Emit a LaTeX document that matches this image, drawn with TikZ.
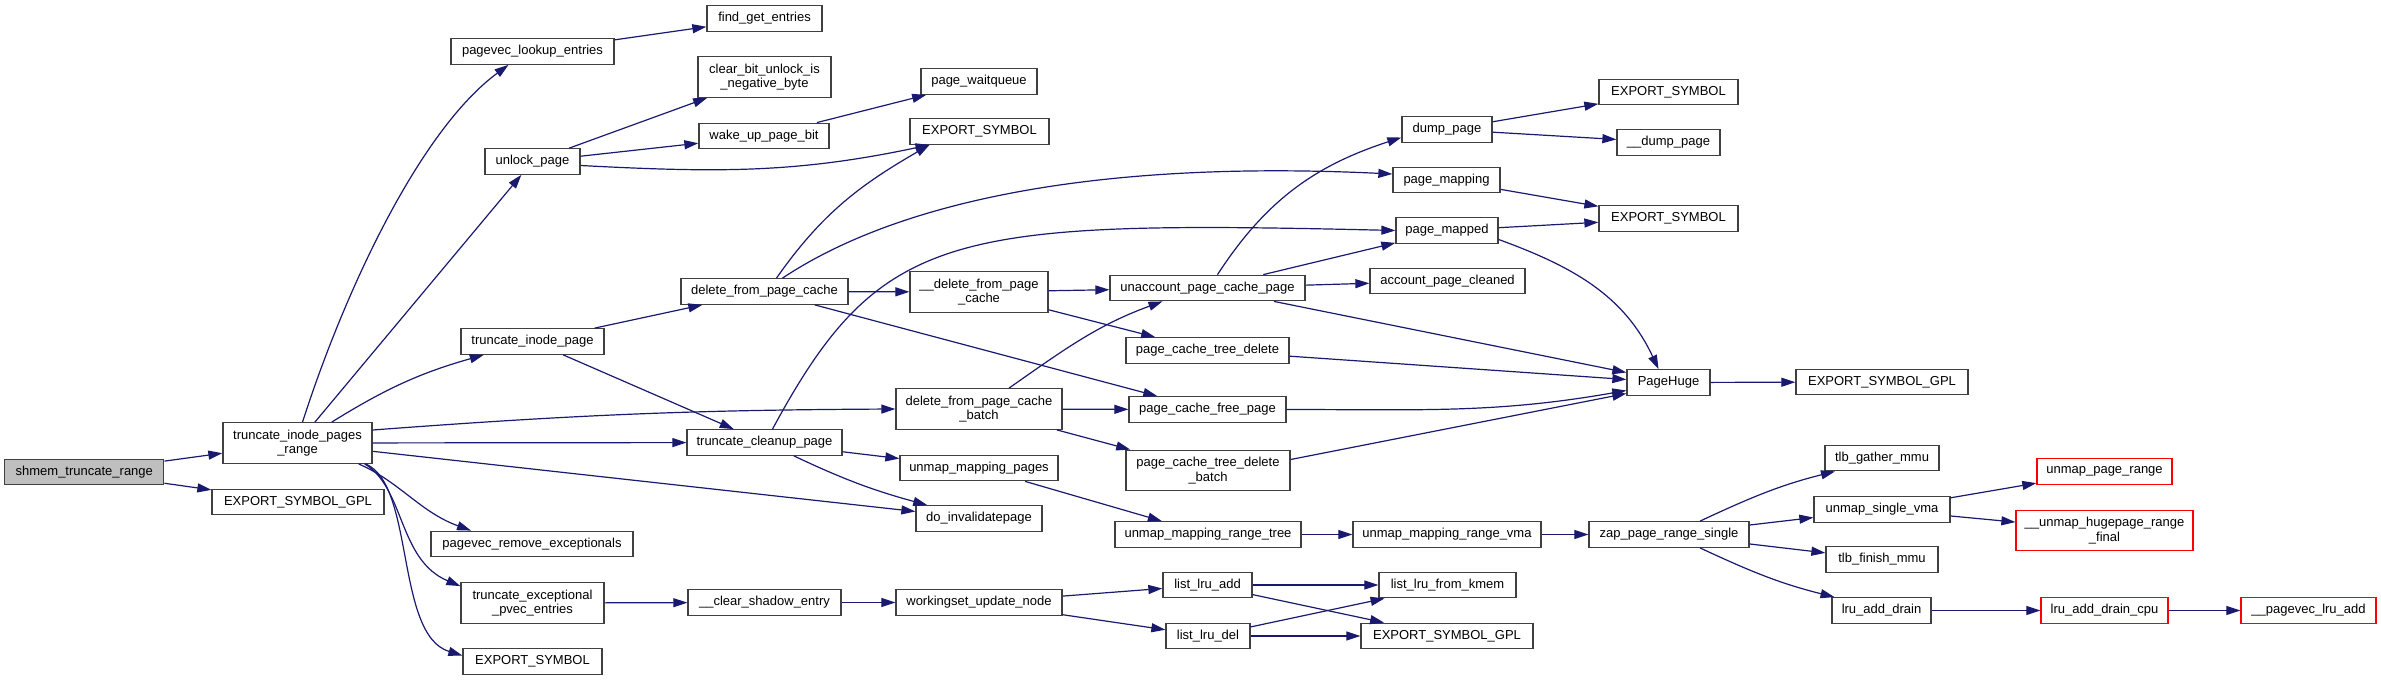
\documentclass[tikz,border=0pt]{standalone}
\usepackage{fontspec}
\setmainfont{Liberation Sans}
\usepackage{xcolor}
\usetikzlibrary{arrows.meta}
\definecolor{edgeblue}{HTML}{191970}
\definecolor{boxgray}{HTML}{404040}
\definecolor{rootfill}{HTML}{BFBFBF}
\newcommand{\fnfont}{\fontsize{13}{14.5}\selectfont}

\begin{document}
\begin{tikzpicture}[x=1pt, y=-1pt,
  fn/.style={draw=boxgray, line width=1.3pt, minimum height=25.5pt, inner sep=1pt, font=\fnfont},
  fntwo/.style={fn, minimum height=40.5pt, align=center},
  ext/.style={draw=red},
  root/.style={fill=rootfill},
  call/.style={draw=edgeblue, line width=1.2pt, -{Triangle[length=14pt, width=9pt]}}]
  \useasboundingbox (0,0) rectangle (2381,680);
  % Column 0/1: caller and its direct callees
  \node[fn, root, minimum width=159pt] (shmem) at (84.3,472) {shmem\_truncate\_range};
  \node[fntwo, minimum width=149pt] (tipr) at (297.5,443) {truncate\_inode\_pages\\\_range};
  \node[fn, minimum width=172pt] (esg0) at (298,502) {EXPORT\_SYMBOL\_GPL};
  % Column 2
  \node[fn, minimum width=163pt] (ple) at (532.5,51.5) {pagevec\_lookup\_entries};
  \node[fn, minimum width=95pt] (ulp) at (532.5,161.5) {unlock\_page};
  \node[fn, minimum width=143pt] (tip) at (532.5,341.5) {truncate\_inode\_page};
  \node[fn, minimum width=202pt] (pre) at (532,544) {pagevec\_remove\_exceptionals};
  \node[fntwo, minimum width=143pt] (tep) at (532.5,603) {truncate\_exceptional\\\_pvec\_entries};
  \node[fn, minimum width=139pt] (es2) at (532.5,661.5) {EXPORT\_SYMBOL};
  % Column 3
  \node[fn, minimum width=115pt] (fge) at (764.5,18.5) {find\_get\_entries};
  \node[fntwo, minimum width=133pt] (cbu) at (764.5,77) {clear\_bit\_unlock\_is\\\_negative\_byte};
  \node[fn, minimum width=130pt] (wup) at (764,136) {wake\_up\_page\_bit};
  \node[fn, minimum width=167pt] (dfpc) at (764.5,291.5) {delete\_from\_page\_cache};
  \node[fn, minimum width=155pt] (tcp) at (764.5,442.5) {truncate\_cleanup\_page};
  \node[fn, minimum width=153pt] (cse) at (764.5,602.5) {\_\_clear\_shadow\_entry};
  % Column 4
  \node[fn, minimum width=116pt] (pwq) at (979,81.5) {page\_waitqueue};
  \node[fn, minimum width=139pt] (es1) at (979.5,131.5) {EXPORT\_SYMBOL};
  \node[fntwo, minimum width=138pt] (udfpc) at (979,292) {\_\_delete\_from\_page\\\_cache};
  \node[fntwo, minimum width=166pt] (dfpcb) at (979,409) {delete\_from\_page\_cache\\\_batch};
  \node[fn, minimum width=158pt] (ump) at (979,468) {unmap\_mapping\_pages};
  \node[fn, minimum width=126pt] (dip) at (979,518.5) {do\_invalidatepage};
  \node[fn, minimum width=166pt] (wun) at (979,602.5) {workingset\_update\_node};
  % Column 5
  \node[fn, minimum width=195pt] (upcp) at (1207.5,288) {unaccount\_page\_cache\_page};
  \node[fn, minimum width=163pt] (pctd) at (1207.5,350.5) {page\_cache\_tree\_delete};
  \node[fn, minimum width=157pt] (pcfp) at (1207.5,409.5) {page\_cache\_free\_page};
  \node[fntwo, minimum width=164pt] (pctdb) at (1208,470.5) {page\_cache\_tree\_delete\\\_batch};
  \node[fn, minimum width=186pt] (umrt) at (1208,534.5) {unmap\_mapping\_range\_tree};
  \node[fn, minimum width=89pt] (lla) at (1207.5,585) {list\_lru\_add};
  \node[fn, minimum width=84pt] (lld) at (1208,636) {list\_lru\_del};
  % Column 6
  \node[fn, minimum width=90pt] (dmp) at (1447,129.5) {dump\_page};
  \node[fn, minimum width=107pt] (pmg) at (1446.5,180) {page\_mapping};
  \node[fn, minimum width=102pt] (pmd) at (1447,230.5) {page\_mapped};
  \node[fn, minimum width=155pt] (apc) at (1447.5,281) {account\_page\_cleaned};
  \node[fn, minimum width=188pt] (umrv) at (1447,534.5) {unmap\_mapping\_range\_vma};
  \node[fn, minimum width=137pt] (llfk) at (1447.5,585) {list\_lru\_from\_kmem};
  \node[fn, minimum width=172pt] (esg1) at (1447,636) {EXPORT\_SYMBOL\_GPL};
  % Column 7
  \node[fn, minimum width=139pt] (es3) at (1668.5,92) {EXPORT\_SYMBOL};
  \node[fn, minimum width=103pt] (udmp) at (1668.5,142.5) {\_\_dump\_page};
  \node[fn, minimum width=139pt] (es4) at (1668.5,218.5) {EXPORT\_SYMBOL};
  \node[fn, minimum width=83pt] (phg) at (1668.5,382.5) {PageHuge};
  \node[fn, minimum width=160pt] (zprs) at (1669,534.5) {zap\_page\_range\_single};
  % Column 8
  \node[fn, minimum width=172pt] (esg2) at (1882,382) {EXPORT\_SYMBOL\_GPL};
  \node[fn, minimum width=114pt] (tgm) at (1882,458) {tlb\_gather\_mmu};
  \node[fn, minimum width=136pt] (usv) at (1882,509.5) {unmap\_single\_vma};
  \node[fn, minimum width=112pt] (tfm) at (1882,559.5) {tlb\_finish\_mmu};
  \node[fn, minimum width=99pt] (lad) at (1881.5,610.5) {lru\_add\_drain};
  % Columns 9/10: not documented (red)
  \node[fn, ext, minimum width=135pt] (upr) at (2104.5,471.5) {unmap\_page\_range};
  \node[fntwo, ext, minimum width=177pt] (uhrf) at (2104.5,530.5) {\_\_unmap\_hugepage\_range\\\_final};
  \node[fn, ext, minimum width=127pt] (ladc) at (2104.5,610.5) {lru\_add\_drain\_cpu};
  \node[fn, ext, minimum width=135pt] (plra) at (2308.5,610.5) {\_\_pagevec\_lru\_add};

  % Straight calls, centre to centre
  \foreach \a/\b in {shmem/tipr, shmem/esg0, tipr/ulp, tipr/tcp, tipr/dip,
      ple/fge, ulp/cbu, ulp/wup, wup/pwq, tip/dfpc, tip/tcp,
      dfpc/udfpc, dfpc/pcfp, udfpc/upcp, udfpc/pctd, upcp/pmd, upcp/apc,
      dmp/es3, dmp/udmp, pmg/es4, pmd/es4, tcp/ump, dfpcb/pcfp, dfpcb/pctdb,
      phg/esg2, ump/umrt, umrt/umrv, umrv/zprs, zprs/usv, zprs/tfm,
      usv/upr, usv/uhrf, lad/ladc, ladc/plra, tep/cse, cse/wun,
      wun/lla, wun/lld, lla/llfk, lla/esg1, lld/llfk, lld/esg1} {
    \draw[call] (\a) -- (\b);
  }

  % Curved calls
  \draw[call] ([xshift=5pt]tipr.north) .. controls (345,290) and (420,130) .. ([xshift=-24pt]ple.south);
  \draw[call] (tipr) to[bend left=8] (tip);
  \draw[call] ([yshift=13pt]tipr.east) to[bend left=2] (dfpcb.west);
  \draw[call] ([xshift=-14pt]tipr.south east) .. controls (400,482) and (420,512) .. ([xshift=-61pt]pre.north);
  \draw[call] ([xshift=-8pt]tipr.south east) .. controls (405,488) and (398,560) .. ([yshift=-4pt]tep.north west);
  \draw[call] ([xshift=-7pt]tipr.south east) .. controls (415,485) and (395,635) .. ([yshift=6pt]es2.west);
  \draw[call] ([yshift=-4pt]ulp.east) to[out=-3, in=192] ([xshift=-50pt]es1.south);
  \draw[call] ([xshift=12pt]dfpc.north) to[out=55, in=210] ([xshift=-50pt]es1.south);
  \draw[call] ([xshift=18pt]dfpc.north) .. controls (900,200) and (1100,160) .. ([yshift=6pt]pmg.west);
  \draw[call] ([xshift=8pt]tcp.north) .. controls (880,230) and (950,220) .. (pmd.west);
  \draw[call] (tcp) to[bend right=5] (dip);
  \draw[call] ([xshift=30pt]dfpcb.north) to[out=35, in=200] ([xshift=-45pt]upcp.south);
  \draw[call] ([xshift=10pt]upcp.north) to[out=57, in=198] ([yshift=-8pt]dmp.west);
  \draw[call] (upcp) -- ([yshift=10pt]phg.west);
  \draw[call] ([yshift=-9pt]pmd.east) to[out=-20, in=115] ([xshift=-10pt]phg.north);
  \draw[call] (pctd) -- ([yshift=3pt]phg.west);
  \draw[call] (pcfp.east) to[out=0, in=190] ([yshift=-8pt]phg.west);
  \draw[call] ([yshift=11pt]pctdb.east) -- ([yshift=-11pt]phg.west);
  \draw[call] ([xshift=31pt]zprs.north) to[out=25, in=194] ([xshift=-47pt]tgm.south);
  \draw[call] ([xshift=31pt]zprs.south) to[out=-25, in=166] ([xshift=-47pt]lad.north);
\end{tikzpicture}
\end{document}
